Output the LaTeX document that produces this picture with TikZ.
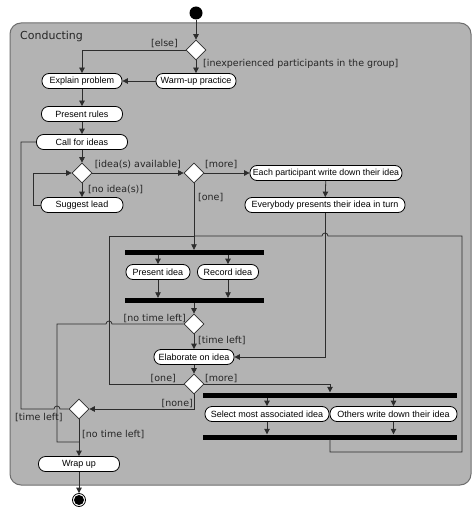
\documentclass[tikz,border=0pt]{standalone}
\usepackage{fontspec}
\setmainfont{Liberation Sans}
\newfontfamily\lblfont{DejaVu Sans}
\usetikzlibrary{shapes.geometric,arrows.meta}
\definecolor{framefill}{RGB}{179,179,179}
\definecolor{frameline}{RGB}{110,110,110}
\definecolor{wirecol}{RGB}{45,45,45}
\begin{document}
\begin{tikzpicture}[x=1pt,y=-1pt,
  act/.style={draw=black, fill=white, rounded corners=7pt, minimum height=15pt, inner sep=0pt, line width=0.8pt, font=\fontsize{9}{10}\selectfont},
  dec/.style={draw=wirecol, fill=white, diamond, minimum width=20pt, minimum height=20pt, inner sep=0pt, line width=0.7pt},
  syncbar/.style={fill=black, draw=none, minimum height=5pt, inner sep=0pt},
  flow/.style={draw=wirecol, line width=0.8pt, -{Triangle[length=5.5pt,width=5.5pt]}},
  wire/.style={draw=wirecol, line width=0.8pt},
  lbl/.style={font=\lblfont\fontsize{9.5}{10}\selectfont, inner sep=0pt, text=black!85},
]
\useasboundingbox[fill=white] (0,0) rectangle (472,508);
\draw[fill=framefill, draw=frameline, line width=1pt, rounded corners=11pt] (10,23) rectangle (471,485);
\node[anchor=base west, font=\lblfont\fontsize{11}{12}\selectfont, inner sep=0pt, text=black!85] (title) at (20,39.5) {Conducting};

% nodes
\node[circle, fill=black, minimum size=13pt, inner sep=0pt] (start) at (196,13) {};
\node[dec] (d1) at (196,50) {};
\node[act, minimum width=80pt] (warm) at (196,81) {Warm-up practice};
\node[act, minimum width=80pt] (explain) at (82,81) {Explain problem};
\node[act, minimum width=81pt] (rules) at (82,114) {Present rules};
\node[act, minimum width=91pt] (call) at (82,142) {Call for ideas};
\node[dec] (d2) at (82,173) {};
\node[act, minimum width=82pt] (suggest) at (82,205) {Suggest lead};
\node[dec] (d3) at (194,173) {};
\node[act, minimum width=152pt, font=\fontsize{8.8}{10}\selectfont] (each) at (326,173) {Each participant write down their idea};
\node[act, minimum width=160pt] (everyone) at (325,205) {Everybody presents their idea in turn};
\node[syncbar, minimum width=139pt] (fork1) at (194,252.5) {};
\node[act, minimum width=64pt] (present) at (158,272) {Present idea};
\node[act, minimum width=61pt] (record) at (228,272) {Record idea};
\node[syncbar, minimum width=139pt] (join1) at (194,300.5) {};
\node[dec] (d5) at (194,324) {};
\node[act, minimum width=80pt] (elab) at (194,357) {Elaborate on idea};
\node[dec] (d4) at (194,384) {};
\node[syncbar, minimum width=254pt] (fork2) at (330,395) {};
\node[act, minimum width=124pt] (select) at (267,414) {Select most associated idea};
\node[act, minimum width=127pt] (others) at (393.5,414) {Others write down their idea};
\node[syncbar, minimum width=254pt] (join2) at (330,437) {};
\node[dec] (d6) at (79,409) {};
\node[act, minimum width=81pt] (wrap) at (79,464) {Wrap up};
\node[circle, draw=black, line width=0.8pt, minimum size=13pt, inner sep=0pt] (end) at (79,500) {};
\fill[black] (end.center) circle (5);

% bend coordinates
\coordinate (m1) at (194,236);
\coordinate (m2) at (79,442);
\coordinate (oneL) at (109,384);
\coordinate (loopA) at (330,452);
\coordinate (loopB) at (462,452);
\coordinate (loopC) at (462,236);
\coordinate (hop1) at (328,236);
\coordinate (ntlA) at (112,324);
\coordinate (ntlB) at (57,324);
\coordinate (hop3) at (60,409);
\coordinate (tlA) at (21,409);

% connectors
\draw[flow] (start) -- (d1);
\draw[flow] (d1) -- (warm);
\draw[flow] (d1.west) -| (explain.north);
\draw[flow] (warm) -- (explain);
\draw[flow] (explain) -- (rules);
\draw[flow] (rules) -- (call);
\draw[flow] (call) -- (d2);
\draw[flow] (d2) -- (suggest);
\draw[flow] (suggest.west) -- ++(-7,0) |- (d2.west);
\draw[flow] (d2) -- (d3);
\draw[flow] (d3) -- (each);
\draw[flow] (each) -- (everyone);
\draw[flow] (d3) -- (fork1);
\draw[flow] (fork1.south -| present) -- (present);
\draw[flow] (fork1.south -| record) -- (record);
\draw[flow] (present) -- (join1.north -| present);
\draw[flow] (record) -- (join1.north -| record);
\draw[flow] (join1) -- (d5);
\draw[flow] (d5) -- (elab);
\draw[flow] (everyone.south) |- (elab.east);
\draw[flow] (elab) -- (d4);
\draw[flow] (d4.east) -| (fork2.north);
\draw[wire] (d4.west) -- (oneL) |- (m1);
\draw[flow] (fork2.south -| select) -- (select);
\draw[flow] (fork2.south -| others) -- (others);
\draw[flow] (select) -- (join2.north -| select);
\draw[flow] (others) -- (join2.north -| others);
\draw[wire] (join2.south) -- (loopA) -- (loopB) -- (loopC) -- (hop1) arc (0:-180:3) -- (m1);
\draw[wire] (d5.west) -- (ntlA) arc (0:-180:3) -- (ntlB) |- (m2);
\draw[flow] (d4.south) |- (d6.east);
\draw[wire] (d6.west) -- (hop3) arc (0:-180:3) -- (tlA) |- (call.west);
\draw[flow] (d6) -- (wrap);
\draw[flow] (wrap) -- (end);

% labels
\node[lbl, anchor=base east] (l1) at (178,46.8) {[else]};
\node[lbl, anchor=base west] (l2) at (203,66.8) {[inexperienced participants in the group]};
\node[lbl, anchor=base east] (l3) at (181,167) {[idea(s) available]};
\node[lbl, anchor=base west] (l4) at (88,192) {[no idea(s)]};
\node[lbl, anchor=base west] (l5) at (205,167) {[more]};
\node[lbl, anchor=base west] (l6) at (198,200) {[one]};
\node[lbl, anchor=base east] (l7) at (186,321) {[no time left]};
\node[lbl, anchor=base west] (l8) at (198,343.5) {[time left]};
\node[lbl, anchor=base east] (l9) at (176,381) {[one]};
\node[lbl, anchor=base west] (l10) at (205,381) {[more]};
\node[lbl, anchor=base east] (l11) at (193,406.5) {[none]};
\node[lbl, anchor=base west] (l12) at (15,420) {[time left]};
\node[lbl, anchor=base west] (l13) at (82,437) {[no time left]};
\end{tikzpicture}
\end{document}
